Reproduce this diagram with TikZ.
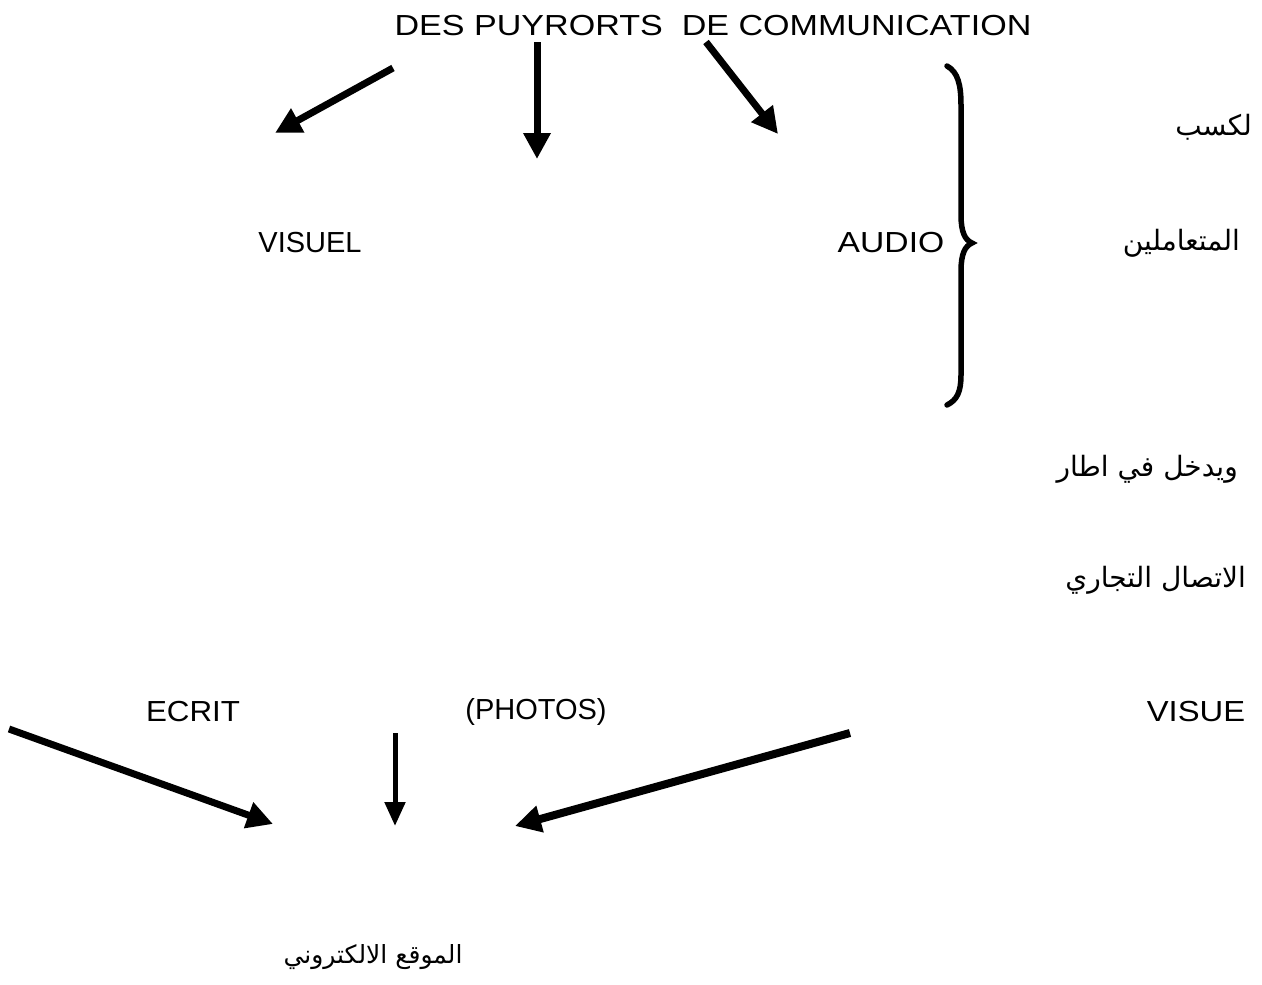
\documentclass[tikz,border=0pt]{standalone}
\usepackage{fontspec}
\setmainfont{Liberation Sans}
\newfontfamily\arabicfont[Script=Arabic]{DejaVu Sans}
\TeXXeTstate=1
\usetikzlibrary{arrows.meta}
\begin{document}
\begin{tikzpicture}[x=1pt,y=-1pt,
  lbl/.style={inner sep=0pt,font=\fontsize{29}{34}\selectfont},
  ar/.style={inner sep=0pt,font=\arabicfont\fontsize{28}{33}\selectfont},
  fat/.style={line width=7pt,-{Triangle[length=26pt,width=26pt]}},
  thin/.style={line width=5pt,-{Triangle[length=24pt,width=20pt]}}]
\useasboundingbox (0,0) rectangle (1262,985);

% titles and labels
\node[lbl,xscale=1.175] (title) at (713,26) {DES PUYRORTS\ \ DE COMMUNICATION};
\node[lbl] (visuel) at (310,243) {VISUEL};
\node[lbl,xscale=1.16] (audio) at (891,243) {AUDIO};
\node[lbl,xscale=1.08] (ecrit) at (193,712) {ECRIT};
\node[lbl] (photos) at (536,712) {(PHOTOS)};
\node[lbl,xscale=1.13] (visue) at (1196,712) {VISUE};

% Arabic text on the right
\node[ar,anchor=east] (kasb) at (1252,127) {\beginR لكسب\endR};
\node[ar,anchor=east] (mut) at (1240,243) {\beginR المتعاملين\endR};
\node[ar,anchor=east] (yad) at (1238,469) {\beginR ويدخل في اطار\endR};
\node[ar,anchor=east] (itt) at (1246,580) {\beginR الاتصال التجاري\endR};
\node[ar,font=\arabicfont\fontsize{25}{30}\selectfont] (site) at (373,957) {\beginR الموقع الالكتروني\endR};

% arrow end points, upper group
\coordinate (a1s) at (393,68);  \coordinate (a1e) at (275,133);
\coordinate (a2s) at (537,42);  \coordinate (a2e) at (537,159);
\coordinate (a3s) at (706,42);  \coordinate (a3e) at (778,134);
\draw[fat] (a1s) -- (a1e);
\draw[fat] (a2s) -- (a2e);
\draw[fat] (a3s) -- (a3e);

% arrow end points, lower group
\coordinate (b1s) at (9,729);   \coordinate (b1e) at (273,824);
\coordinate (b2s) at (395,733); \coordinate (b2e) at (395,826);
\coordinate (b3s) at (850,733); \coordinate (b3e) at (515,826);
\draw[fat] (b1s) -- (b1e);
\draw[thin] (b2s) -- (b2e);
\draw[fat,line width=8pt] (b3s) -- (b3e);

% curly brace
\draw[line width=5.5pt,line cap=round]
  (947,66) .. controls (958,72) and (961,85) .. (961,105)
  -- (961,215) .. controls (961,232) and (965,240) .. (972,243)
  .. controls (965,246) and (961,254) .. (961,271)
  -- (961,375) .. controls (961,392) and (957,400) .. (947,405);
\end{tikzpicture}
\end{document}
